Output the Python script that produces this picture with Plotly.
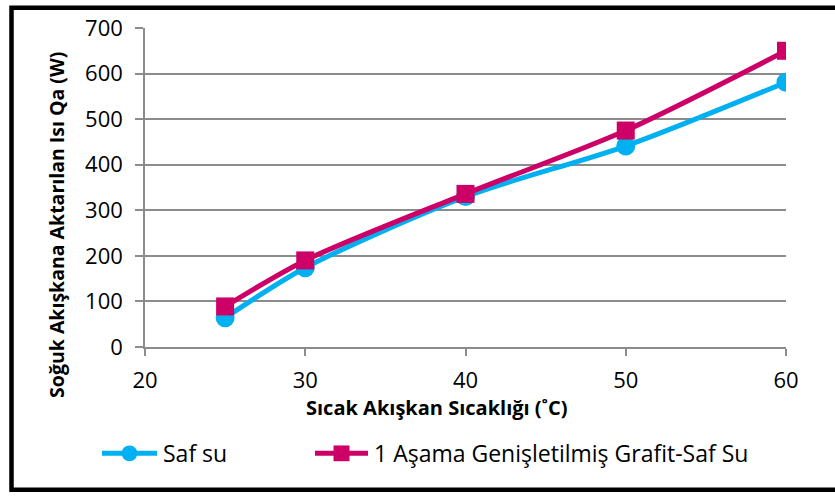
import plotly.graph_objects as go

# Hot-fluid temperature (°C) and heat transferred to the cold fluid (W)
temperature = [25, 30, 40, 50, 60]
saf_su = [64, 174, 330, 441, 581]
grafit_saf_su = [89, 190, 336, 475, 650]

series_names = ["Saf su", "1 Aşama Genişletilmiş Grafit-Saf Su"]
series_colors = ["#00B0F0", "#CC0066"]

x_ticks = [20, 30, 40, 50, 60]
y_ticks = [0, 100, 200, 300, 400, 500, 600, 700]

x_title = "Sıcak Akışkan Sıcaklığı (˚C)"
y_title = "Soğuk Akışkana Aktarılan Isı Qa (W)"

W, H = 835, 497
L, R, T, B = 145, 49, 23, 150
FONT = "Open Sans"


def px_x(px):
    return (px - L) / (W - L - R)


def px_y(py):
    return (H - B - py) / (H - T - B)


fig = go.Figure()
fig.add_trace(go.Scatter(
    x=temperature, y=saf_su, name=series_names[0], mode="lines+markers",
    line=dict(color=series_colors[0], width=5, shape="spline", smoothing=0.8),
    marker=dict(symbol="circle", size=19, color=series_colors[0]),
    showlegend=False,
))
fig.add_trace(go.Scatter(
    x=temperature, y=grafit_saf_su, name=series_names[1], mode="lines+markers",
    line=dict(color=series_colors[1], width=5, shape="spline", smoothing=0.8),
    marker=dict(symbol="square", size=18, color=series_colors[1]),
    showlegend=False,
))

grid = "#8C8C8C"
fig.update_xaxes(
    range=[20, 60], tickvals=x_ticks, ticks="outside", ticklen=7, tickcolor=grid,
    tickwidth=1.5, showline=True, linecolor=grid, linewidth=1.5, showgrid=False,
    zeroline=False, tickfont=dict(family=FONT, size=22, color="#000"),
    ticklabelstandoff=6,
)
fig.update_yaxes(
    range=[0, 700], tickvals=y_ticks, ticks="outside", ticklen=8, tickcolor=grid,
    tickwidth=1.5, showline=True, linecolor=grid, linewidth=1.5, showgrid=True,
    gridcolor=grid, gridwidth=1.5, zeroline=False,
    tickfont=dict(family=FONT, size=22, color="#000"), ticklabelstandoff=8,
)

shapes = [
    # chart frame
    dict(type="rect", xref="paper", yref="paper", x0=px_x(11.5), x1=px_x(850),
         y0=px_y(492), y1=px_y(2.5), line=dict(color="#000", width=4.5),
         layer="above"),
]
annotations = [
    dict(text=f"<b>{x_title}</b>", xref="paper", yref="paper", x=px_x(437),
         y=px_y(408), xanchor="center", yanchor="middle", showarrow=False,
         font=dict(family=FONT, size=20, color="#000")),
    dict(text=f"<b>{y_title}</b>", xref="paper", yref="paper", x=px_x(57),
         y=px_y(223), xanchor="center", yanchor="middle", textangle=-90,
         showarrow=False, font=dict(family=FONT, size=19.5, color="#000")),
]

# legend row drawn below the plot
legend_y = 455
legend_items = [
    (series_names[0], series_colors[0], "circle", 102, 157, 161),
    (series_names[1], series_colors[1], "rect", 315, 368, 372),
]
for name, color, kind, x0, x1, tx in legend_items:
    shapes.append(dict(type="line", xref="paper", yref="paper", x0=px_x(x0), x1=px_x(x1),
                       y0=px_y(legend_y), y1=px_y(legend_y),
                       line=dict(color=color, width=5)))
    cx = (x0 + x1) / 2
    r = 8
    shapes.append(dict(type=kind, xref="paper", yref="paper", x0=px_x(cx - r), x1=px_x(cx + r),
                       y0=px_y(legend_y + r), y1=px_y(legend_y - r),
                       fillcolor=color, line=dict(width=0)))
    annotations.append(dict(text=name, xref="paper", yref="paper", x=px_x(tx), y=px_y(legend_y),
                            xanchor="left", yanchor="middle", showarrow=False,
                            font=dict(family=FONT, size=23, color="#000")))

fig.update_layout(
    width=W, height=H, margin=dict(l=L, r=R, t=T, b=B),
    paper_bgcolor="#fff", plot_bgcolor="#fff",
    shapes=shapes, annotations=annotations, showlegend=False,
)
fig.write_html("out.html")
